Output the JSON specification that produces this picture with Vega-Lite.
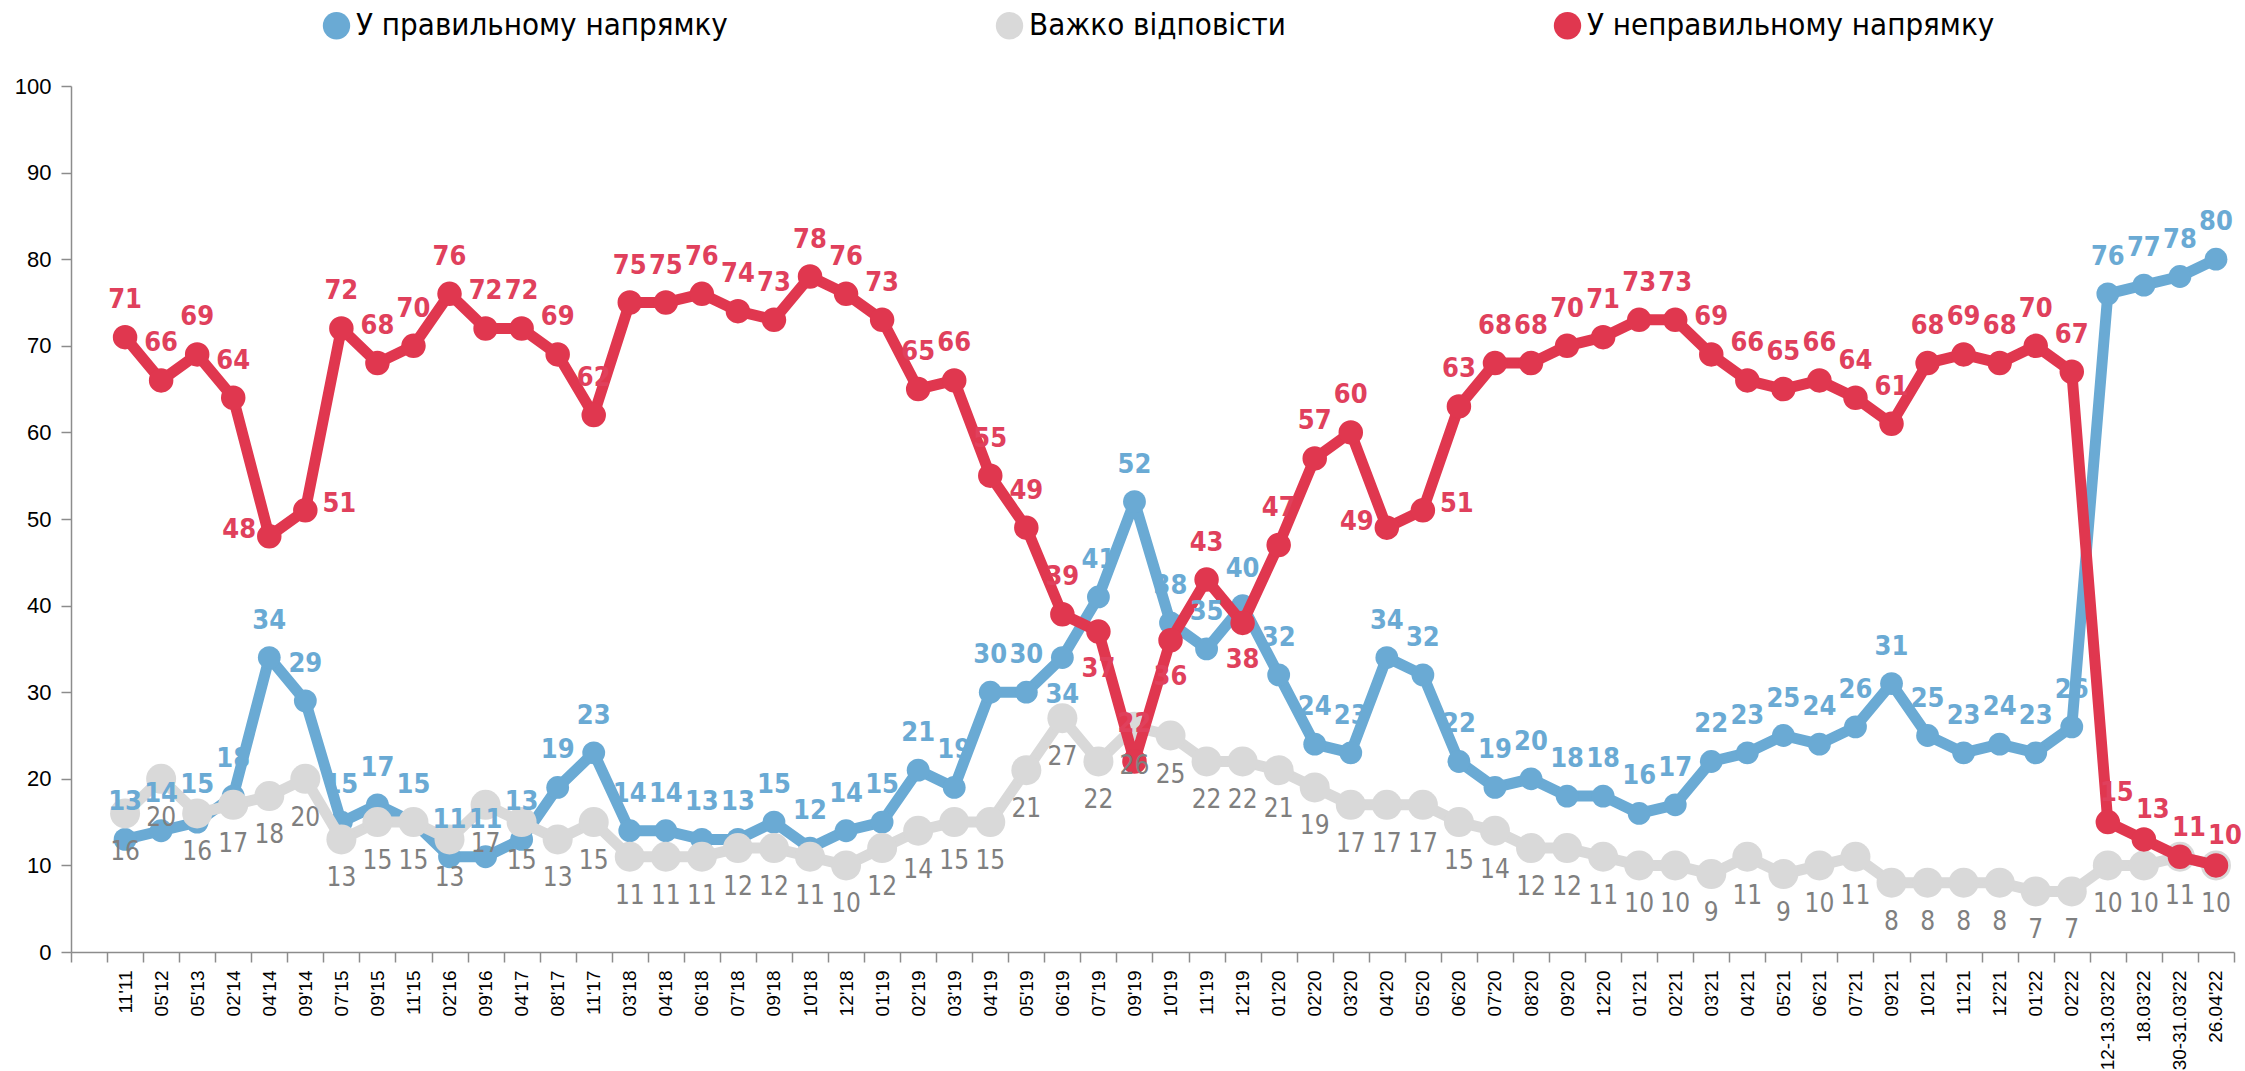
{
  "$schema": "https://vega.github.io/schema/vega-lite/v6.json",
  "autosize": {"type": "none"},
  "padding": {"left": 71, "top": 86, "right": 11, "bottom": 119},
  "width": 2163,
  "height": 866,
  "background": "white",
  "config": {"view": {"stroke": null}, "font": "Liberation Sans, sans-serif"},
  "data": {"values": [
    {"d": "11'11", "У правильному напрямку": 13, "Важко відповісти": 16, "У неправильному напрямку": 71},
    {"d": "05'12", "У правильному напрямку": 14, "Важко відповісти": 20, "У неправильному напрямку": 66},
    {"d": "05'13", "У правильному напрямку": 15, "Важко відповісти": 16, "У неправильному напрямку": 69},
    {"d": "02'14", "У правильному напрямку": 18, "Важко відповісти": 17, "У неправильному напрямку": 64},
    {"d": "04'14", "У правильному напрямку": 34, "Важко відповісти": 18, "У неправильному напрямку": 48},
    {"d": "09'14", "У правильному напрямку": 29, "Важко відповісти": 20, "У неправильному напрямку": 51},
    {"d": "07'15", "У правильному напрямку": 15, "Важко відповісти": 13, "У неправильному напрямку": 72},
    {"d": "09'15", "У правильному напрямку": 17, "Важко відповісти": 15, "У неправильному напрямку": 68},
    {"d": "11'15", "У правильному напрямку": 15, "Важко відповісти": 15, "У неправильному напрямку": 70},
    {"d": "02'16", "У правильному напрямку": 11, "Важко відповісти": 13, "У неправильному напрямку": 76},
    {"d": "09'16", "У правильному напрямку": 11, "Важко відповісти": 17, "У неправильному напрямку": 72},
    {"d": "04'17", "У правильному напрямку": 13, "Важко відповісти": 15, "У неправильному напрямку": 72},
    {"d": "08'17", "У правильному напрямку": 19, "Важко відповісти": 13, "У неправильному напрямку": 69},
    {"d": "11'17", "У правильному напрямку": 23, "Важко відповісти": 15, "У неправильному напрямку": 62},
    {"d": "03'18", "У правильному напрямку": 14, "Важко відповісти": 11, "У неправильному напрямку": 75},
    {"d": "04'18", "У правильному напрямку": 14, "Важко відповісти": 11, "У неправильному напрямку": 75},
    {"d": "06'18", "У правильному напрямку": 13, "Важко відповісти": 11, "У неправильному напрямку": 76},
    {"d": "07'18", "У правильному напрямку": 13, "Важко відповісти": 12, "У неправильному напрямку": 74},
    {"d": "09'18", "У правильному напрямку": 15, "Важко відповісти": 12, "У неправильному напрямку": 73},
    {"d": "10'18", "У правильному напрямку": 12, "Важко відповісти": 11, "У неправильному напрямку": 78},
    {"d": "12'18", "У правильному напрямку": 14, "Важко відповісти": 10, "У неправильному напрямку": 76},
    {"d": "01'19", "У правильному напрямку": 15, "Важко відповісти": 12, "У неправильному напрямку": 73},
    {"d": "02'19", "У правильному напрямку": 21, "Важко відповісти": 14, "У неправильному напрямку": 65},
    {"d": "03'19", "У правильному напрямку": 19, "Важко відповісти": 15, "У неправильному напрямку": 66},
    {"d": "04'19", "У правильному напрямку": 30, "Важко відповісти": 15, "У неправильному напрямку": 55},
    {"d": "05'19", "У правильному напрямку": 30, "Важко відповісти": 21, "У неправильному напрямку": 49},
    {"d": "06'19", "У правильному напрямку": 34, "Важко відповісти": 27, "У неправильному напрямку": 39},
    {"d": "07'19", "У правильному напрямку": 41, "Важко відповісти": 22, "У неправильному напрямку": 37},
    {"d": "09'19", "У правильному напрямку": 52, "Важко відповісти": 26, "У неправильному напрямку": 22},
    {"d": "10'19", "У правильному напрямку": 38, "Важко відповісти": 25, "У неправильному напрямку": 36},
    {"d": "11'19", "У правильному напрямку": 35, "Важко відповісти": 22, "У неправильному напрямку": 43},
    {"d": "12'19", "У правильному напрямку": 40, "Важко відповісти": 22, "У неправильному напрямку": 38},
    {"d": "01'20", "У правильному напрямку": 32, "Важко відповісти": 21, "У неправильному напрямку": 47},
    {"d": "02'20", "У правильному напрямку": 24, "Важко відповісти": 19, "У неправильному напрямку": 57},
    {"d": "03'20", "У правильному напрямку": 23, "Важко відповісти": 17, "У неправильному напрямку": 60},
    {"d": "04'20", "У правильному напрямку": 34, "Важко відповісти": 17, "У неправильному напрямку": 49},
    {"d": "05'20", "У правильному напрямку": 32, "Важко відповісти": 17, "У неправильному напрямку": 51},
    {"d": "06'20", "У правильному напрямку": 22, "Важко відповісти": 15, "У неправильному напрямку": 63},
    {"d": "07'20", "У правильному напрямку": 19, "Важко відповісти": 14, "У неправильному напрямку": 68},
    {"d": "08'20", "У правильному напрямку": 20, "Важко відповісти": 12, "У неправильному напрямку": 68},
    {"d": "09'20", "У правильному напрямку": 18, "Важко відповісти": 12, "У неправильному напрямку": 70},
    {"d": "12'20", "У правильному напрямку": 18, "Важко відповісти": 11, "У неправильному напрямку": 71},
    {"d": "01'21", "У правильному напрямку": 16, "Важко відповісти": 10, "У неправильному напрямку": 73},
    {"d": "02'21", "У правильному напрямку": 17, "Важко відповісти": 10, "У неправильному напрямку": 73},
    {"d": "03'21", "У правильному напрямку": 22, "Важко відповісти": 9, "У неправильному напрямку": 69},
    {"d": "04'21", "У правильному напрямку": 23, "Важко відповісти": 11, "У неправильному напрямку": 66},
    {"d": "05'21", "У правильному напрямку": 25, "Важко відповісти": 9, "У неправильному напрямку": 65},
    {"d": "06'21", "У правильному напрямку": 24, "Важко відповісти": 10, "У неправильному напрямку": 66},
    {"d": "07'21", "У правильному напрямку": 26, "Важко відповісти": 11, "У неправильному напрямку": 64},
    {"d": "09'21", "У правильному напрямку": 31, "Важко відповісти": 8, "У неправильному напрямку": 61},
    {"d": "10'21", "У правильному напрямку": 25, "Важко відповісти": 8, "У неправильному напрямку": 68},
    {"d": "11'21", "У правильному напрямку": 23, "Важко відповісти": 8, "У неправильному напрямку": 69},
    {"d": "12'21", "У правильному напрямку": 24, "Важко відповісти": 8, "У неправильному напрямку": 68},
    {"d": "01'22", "У правильному напрямку": 23, "Важко відповісти": 7, "У неправильному напрямку": 70},
    {"d": "02'22", "У правильному напрямку": 26, "Важко відповісти": 7, "У неправильному напрямку": 67},
    {"d": "12-13.03'22", "У правильному напрямку": 76, "Важко відповісти": 10, "У неправильному напрямку": 15},
    {"d": "18.03'22", "У правильному напрямку": 77, "Важко відповісти": 10, "У неправильному напрямку": 13},
    {"d": "30-31.03'22", "У правильному напрямку": 78, "Важко відповісти": 11, "У неправильному напрямку": 11},
    {"d": "26.04'22", "У правильному напрямку": 80, "Важко відповісти": 10, "У неправильному напрямку": 10}
  ]},
  "transform": [
    {"fold": ["У правильному напрямку", "Важко відповісти", "У неправильному напрямку"], "as": ["series", "value"]}
  ],
  "encoding": {
    "x": {
      "field": "d", "type": "nominal", "title": null,
      "scale": {
        "domain": [" ", "11'11", "05'12", "05'13", "02'14", "04'14", "09'14", "07'15", "09'15", "11'15", "02'16", "09'16", "04'17", "08'17", "11'17", "03'18", "04'18", "06'18", "07'18", "09'18", "10'18", "12'18", "01'19", "02'19", "03'19", "04'19", "05'19", "06'19", "07'19", "09'19", "10'19", "11'19", "12'19", "01'20", "02'20", "03'20", "04'20", "05'20", "06'20", "07'20", "08'20", "09'20", "12'20", "01'21", "02'21", "03'21", "04'21", "05'21", "06'21", "07'21", "09'21", "10'21", "11'21", "12'21", "01'22", "02'22", "12-13.03'22", "18.03'22", "30-31.03'22", "26.04'22"],
        "type": "band", "paddingInner": 0, "paddingOuter": 0
      },
      "axis": {
        "labelAngle": -90, "labelFontSize": 19, "labelColor": "#000000", "labelOverlap": false,
        "labelPadding": 8, "tickBand": "extent", "tickSize": 10, "tickColor": "#8c8c8c",
        "domainColor": "#8c8c8c", "domainWidth": 1.5, "tickWidth": 1.5, "grid": false, "labelFont": "Liberation Sans, sans-serif"
      }
    },
    "y": {
      "field": "value", "type": "quantitative", "title": null,
      "scale": {"domain": [0, 100], "nice": false},
      "axis": {
        "values": [0, 10, 20, 30, 40, 50, 60, 70, 80, 90, 100], "grid": false,
        "labelFontSize": 22, "labelColor": "#000000", "labelPadding": 10, "tickSize": 10,
        "tickColor": "#8c8c8c", "domainColor": "#8c8c8c", "domainWidth": 1.5, "tickWidth": 1.5, "labelFont": "Liberation Sans, sans-serif"
      }
    },
    "color": {"field": "series", "type": "nominal",
      "scale": {"domain": ["У правильному напрямку", "Важко відповісти", "У неправильному напрямку"], "range": ["#6aaad4", "#d9d9d9", "#e0374f"]},
      "legend": {
        "orient": "none", "legendX": 250, "legendY": -76, "direction": "horizontal", "title": null,
        "symbolType": "circle", "symbolSize": 750, "symbolStrokeWidth": 0, "symbolOpacity": 1,
        "labelFontSize": 31, "labelFont": "DejaVu Sans Condensed, Liberation Sans, sans-serif", "labelColor": "#000000",
        "columnPadding": 266, "labelOffset": 4, "padding": 0, "labelLimit": 600
      }
    }
  },
  "layer": [
    {
      "transform": [{"filter": "datum.series === 'У правильному напрямку'"}],
      "mark": {"type": "line", "strokeWidth": 11, "strokeJoin": "round"}
    },
    {
      "transform": [{"filter": "datum.series === 'У правильному напрямку'"}],
      "mark": {"type": "point", "filled": true, "opacity": 1, "size": 520}
    },
    {
      "transform": [{"filter": "datum.series === 'Важко відповісти'"}],
      "mark": {"type": "line", "strokeWidth": 11, "strokeJoin": "round"}
    },
    {
      "transform": [{"filter": "datum.series === 'Важко відповісти'"}],
      "mark": {"type": "point", "filled": true, "opacity": 1, "size": 900}
    },
    {
      "transform": [{"filter": "datum.series === 'У неправильному напрямку'"}],
      "mark": {"type": "line", "strokeWidth": 11, "strokeJoin": "round"}
    },
    {
      "transform": [{"filter": "datum.series === 'У неправильному напрямку'"}],
      "mark": {"type": "point", "filled": true, "opacity": 1, "size": 600}
    },
    {
      "transform": [{"filter": "datum.series === 'Важко відповісти'"}],
      "mark": {"type": "text", "font": "DejaVu Sans Condensed, Liberation Sans, sans-serif", "fontSize": 26, "dy": 39},
      "encoding": {"text": {"field": "value", "type": "quantitative"}, "color": {"value": "#7f7f7f"}}
    },
    {
      "transform": [{"filter": "datum.series === 'У правильному напрямку' && datum.d !== '06\\'19'"}],
      "mark": {"type": "text", "font": "DejaVu Sans Condensed, Liberation Sans, sans-serif", "fontSize": 27, "fontWeight": "bold", "dy": -37},
      "encoding": {"text": {"field": "value", "type": "quantitative"}, "color": {"value": "#6aaad4"}}
    },
    {
      "transform": [{"filter": "datum.series === 'У правильному напрямку' && datum.d === '06\\'19'"}],
      "mark": {"type": "text", "font": "DejaVu Sans Condensed, Liberation Sans, sans-serif", "fontSize": 27, "fontWeight": "bold", "dy": 37},
      "encoding": {"text": {"field": "value", "type": "quantitative"}, "color": {"value": "#6aaad4"}}
    },
    {
      "transform": [
        {"filter": "datum.series === 'У неправильному напрямку'"},
        {"filter": {"not": {"field": "d", "oneOf": ["07'19", "10'19", "12'19", "04'14", "04'20", "09'14", "05'20", "12-13.03'22", "18.03'22", "30-31.03'22", "26.04'22"]}}}
      ],
      "mark": {"type": "text", "font": "DejaVu Sans Condensed, Liberation Sans, sans-serif", "fontSize": 27, "fontWeight": "bold", "dy": -37},
      "encoding": {"text": {"field": "value", "type": "quantitative"}, "color": {"value": "#e0405c"}}
    },
    {
      "transform": [
        {"filter": "datum.series === 'У неправильному напрямку'"},
        {"filter": {"field": "d", "oneOf": ["07'19", "10'19", "12'19"]}}
      ],
      "mark": {"type": "text", "font": "DejaVu Sans Condensed, Liberation Sans, sans-serif", "fontSize": 27, "fontWeight": "bold", "dy": 37},
      "encoding": {"text": {"field": "value", "type": "quantitative"}, "color": {"value": "#e0405c"}}
    },
    {
      "transform": [
        {"filter": "datum.series === 'У неправильному напрямку'"},
        {"filter": {"field": "d", "oneOf": ["04'14", "04'20"]}}
      ],
      "mark": {"type": "text", "font": "DejaVu Sans Condensed, Liberation Sans, sans-serif", "fontSize": 27, "fontWeight": "bold", "dx": -30, "dy": -6},
      "encoding": {"text": {"field": "value", "type": "quantitative"}, "color": {"value": "#e0405c"}}
    },
    {
      "transform": [
        {"filter": "datum.series === 'У неправильному напрямку'"},
        {"filter": {"field": "d", "oneOf": ["09'14", "05'20"]}}
      ],
      "mark": {"type": "text", "font": "DejaVu Sans Condensed, Liberation Sans, sans-serif", "fontSize": 27, "fontWeight": "bold", "dx": 34, "dy": -6},
      "encoding": {"text": {"field": "value", "type": "quantitative"}, "color": {"value": "#e0405c"}}
    },
    {
      "transform": [
        {"filter": "datum.series === 'У неправильному напрямку'"},
        {"filter": {"field": "d", "oneOf": ["12-13.03'22", "18.03'22", "30-31.03'22", "26.04'22"]}}
      ],
      "mark": {"type": "text", "font": "DejaVu Sans Condensed, Liberation Sans, sans-serif", "fontSize": 27, "fontWeight": "bold", "dx": 9, "dy": -29},
      "encoding": {"text": {"field": "value", "type": "quantitative"}, "color": {"value": "#e0405c"}}
    }
  ]
}
